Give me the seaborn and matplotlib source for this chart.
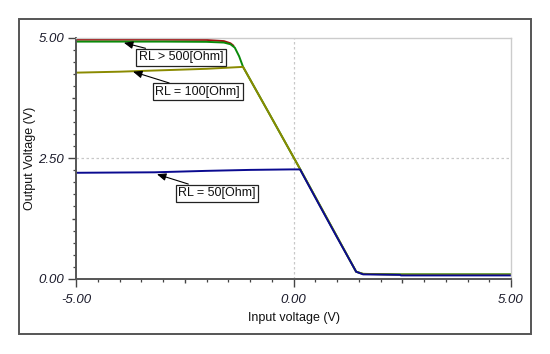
import matplotlib
matplotlib.use("Agg")
import matplotlib.pyplot as plt
import matplotlib.patches as mpatches
import numpy as np
import pandas as pd
import seaborn as sns

# ---- data ----
x_red = [-5.0, -3.0, -2.0, -1.6, -1.45, -1.38]
y_red = [4.965, 4.965, 4.96, 4.935, 4.89, 4.84]

x_green = [-5.0, -3.0, -2.0, -1.6, -1.45, -1.35, -1.25, -1.16, -0.54, 0.15, 1.44, 1.6, 2.45, 5.0]
y_green = [4.925, 4.925, 4.92, 4.905, 4.87, 4.80, 4.62, 4.40, 3.40, 2.28, 0.145, 0.10, 0.09, 0.09]

x_olive = [-5.0, -4.0, -3.0, -2.0, -1.16, -0.54, 0.15, 1.44, 1.6, 2.45, 5.0]
y_olive = [4.28, 4.30, 4.33, 4.36, 4.40, 3.40, 2.28, 0.145, 0.10, 0.085, 0.085]

x_blue = [-5.0, -3.2, -2.0, -1.0, -0.08, 0.15, 0.6, 1.0, 1.44, 1.6, 2.45, 2.47, 5.0]
y_blue = [2.20, 2.21, 2.24, 2.26, 2.27, 2.27, 1.52, 0.86, 0.145, 0.09, 0.08, 0.068, 0.068]

series_names = ["RL=1k", "RL=500", "RL=100", "RL=50"]
series_colors = ["#a01010", "#0a8a0a", "#8a8a00", "#0a0a90"]

x_ticks_major = [-5.0, -2.5, 0.0, 2.5, 5.0]
x_tick_labels = ["-5.00", "", "0.00", "", "5.00"]
y_ticks_major = [0.0, 1.25, 2.5, 3.75, 5.0]
y_tick_labels = ["0.00", "", "2.50", "", "5.00"]

labels = ["RL > 500[Ohm]", "RL = 100[Ohm]", "RL = 50[Ohm]"]
label_targets_x = [-3.9, -3.69, -3.14]
label_targets_y = [4.90, 4.30, 2.17]
label_pos_x = [-2.59, -2.20, -1.76]
label_pos_y = [4.60, 3.88, 1.78]

# ---- build frame ----
frames = []
for name, xs, ys in zip(series_names, [x_red, x_green, x_olive, x_blue],
                        [y_red, y_green, y_olive, y_blue]):
    frames.append(pd.DataFrame({"x": xs, "y": ys, "series": name}))
df = pd.concat(frames, ignore_index=True)

sns.set_style("white")
plt.rcParams["font.family"] = ["Liberation Sans", "DejaVu Sans"]

fig = plt.figure(figsize=(5.5, 3.54), dpi=100)
ax = fig.add_axes([0.1382, 0.2127, 0.7909, 0.680])

# outer frame
fig.patches.append(mpatches.Rectangle((0.0345, 0.0565), 0.931, 0.8898,
                                      transform=fig.transFigure, fill=False,
                                      edgecolor="#555555", linewidth=1.4))

# grid lines (dashed) at the major label positions
ax.axvline(0.0, color="#c8c8c8", lw=0.9, ls=(0, (2, 2)), zorder=0)
ax.axhline(2.5, color="#c8c8c8", lw=0.9, ls=(0, (2, 2)), zorder=0)

sns.lineplot(data=df, x="x", y="y", hue="series", hue_order=series_names,
             palette=series_colors, sort=False, estimator=None, lw=1.4,
             legend=False, ax=ax)

ax.set_xlim(-5, 5)
ax.set_ylim(0, 5)

ax.set_xticks(x_ticks_major)
ax.set_xticklabels(x_tick_labels)
ax.set_yticks(y_ticks_major)
ax.set_yticklabels(y_tick_labels)
ax.set_xticks(np.arange(-5, 5.01, 0.5), minor=True)
ax.set_yticks(np.arange(0, 5.01, 0.25), minor=True)

for lab in ax.get_xticklabels() + ax.get_yticklabels():
    lab.set_fontstyle("italic")
    lab.set_fontsize(9.5)
    lab.set_color("#1a1a2a")

ax.tick_params(axis="both", which="major", direction="out", length=6,
               width=1.0, color="#444444", bottom=True, left=True)
ax.tick_params(axis="x", which="major", pad=5)
ax.tick_params(axis="y", which="major", pad=2.5)
ax.tick_params(axis="both", which="minor", direction="out", length=2,
               width=0.9, color="#444444", bottom=True, left=True)
# medium ticks
for t, v in zip(ax.xaxis.get_major_ticks(), x_ticks_major):
    if v in (-2.5, 2.5):
        t.tick1line.set_markersize(3)
for t, v in zip(ax.yaxis.get_major_ticks(), y_ticks_major):
    if v in (1.25, 3.75):
        t.tick1line.set_markersize(3)

for side in ["left", "bottom"]:
    ax.spines[side].set_color("#555555")
    ax.spines[side].set_linewidth(1.4)
for side in ["top", "right"]:
    ax.spines[side].set_color("#cccccc")
    ax.spines[side].set_linewidth(1.0)

ax.set_xlabel("Input voltage (V)", fontsize=9, color="#111111")
ax.set_ylabel("Output Voltage (V)", fontsize=9, color="#111111")
ax.xaxis.set_label_coords(0.5, -0.138)
ax.yaxis.set_label_coords(-0.092, 0.5)

for txt, tx, ty, px, py in zip(labels, label_targets_x, label_targets_y,
                               label_pos_x, label_pos_y):
    ax.annotate(txt, xy=(tx, ty), xytext=(px, py), ha="center", va="center",
                fontsize=9, color="#111111",
                bbox=dict(boxstyle="square,pad=0.2", fc="white", ec="#222222", lw=0.9),
                arrowprops=dict(arrowstyle="-|>,head_length=0.6,head_width=0.25",
                                color="black", lw=0.8, shrinkA=0, shrinkB=0),
                zorder=5)

fig.savefig("out.png", dpi=100)
